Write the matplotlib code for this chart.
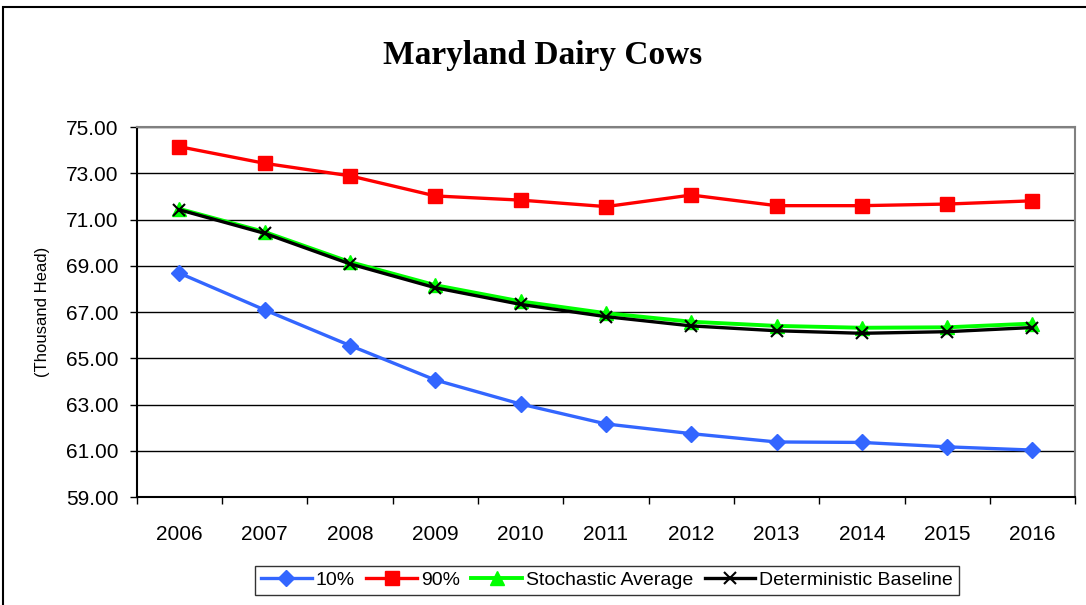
import matplotlib.pyplot as plt
from matplotlib.patches import Rectangle
from matplotlib.ticker import FixedLocator, FormatStrFormatter

# data
years = ["2006", "2007", "2008", "2009", "2010", "2011",
         "2012", "2013", "2014", "2015", "2016"]
p10 = [68.68, 67.09, 65.55, 64.06, 63.02, 62.16, 61.74, 61.38, 61.36, 61.17, 61.03]
p90 = [74.15, 73.43, 72.89, 72.02, 71.84, 71.56, 72.06, 71.60, 71.60, 71.67, 71.81]
stoch_avg = [71.46, 70.46, 69.16, 68.16, 67.46, 66.95, 66.58, 66.40, 66.32, 66.34, 66.50]
det_base = [71.42, 70.40, 69.08, 68.05, 67.33, 66.80, 66.40, 66.19, 66.08, 66.15, 66.33]

plt.rcParams["font.family"] = ["Liberation Sans", "DejaVu Sans"]

fig = plt.figure(figsize=(10.86, 6.05), dpi=100)
ax = fig.add_axes([0.126, 0.1785, 0.864, 0.6115])

x = range(len(years))
ax.plot(x, p10, color="#3366FF", lw=2.4, marker="D", ms=8, label="10%")
ax.plot(x, p90, color="#FF0000", lw=2.4, marker="s", ms=10, label="90%")
ax.plot(x, stoch_avg, color="#00FF00", lw=2.8, marker="^", ms=10, label="Stochastic Average")
ax.plot(x, det_base, color="black", lw=2.4, marker="x", ms=9, mew=1.5,
        label="Deterministic Baseline")

ax.set_ylim(59, 75)
ax.set_xlim(-0.5, len(years) - 0.5)
ax.set_yticks(range(59, 76, 2))
ax.yaxis.set_major_formatter(FormatStrFormatter("%.2f"))
ax.set_xticks(list(x))
ax.set_xticklabels(years)
ax.xaxis.set_minor_locator(FixedLocator([i - 0.5 for i in range(len(years) + 1)]))
ax.tick_params(axis="x", which="major", length=0, pad=20, labelsize=15)
ax.tick_params(axis="x", which="minor", length=5, width=1, direction="out")
ax.tick_params(axis="y", length=5, width=1, direction="out", labelsize=15, pad=8)

ax.grid(axis="y", color="black", lw=1)
ax.set_axisbelow(True)
for side in ["top", "right"]:
    ax.spines[side].set_color("#808080")
    ax.spines[side].set_linewidth(1.5)
ax.spines["left"].set_linewidth(1.5)
ax.spines["bottom"].set_linewidth(1.5)

ax.set_ylabel("(Thousand Head)", fontsize=12, labelpad=12)
fig.text(0.5, 0.909, "Maryland Dairy Cows", ha="center", va="center",
         fontsize=24, fontweight="bold", family=["Liberation Serif", "DejaVu Serif"])

leg = fig.legend(loc="center", bbox_to_anchor=(0.559, 0.041), ncol=4, fontsize=14,
                 frameon=True, fancybox=False, handlelength=2.6, handletextpad=0.2,
                 columnspacing=0.6, borderpad=0.3, borderaxespad=0)
leg.get_frame().set_edgecolor("black")
leg.get_frame().set_linewidth(1)

# outer chart border
fig.patches.append(Rectangle((0.003, -0.01), 1.1, 0.998, transform=fig.transFigure,
                             fill=False, edgecolor="black", lw=1.5))

fig.savefig("out.png", dpi=100)
